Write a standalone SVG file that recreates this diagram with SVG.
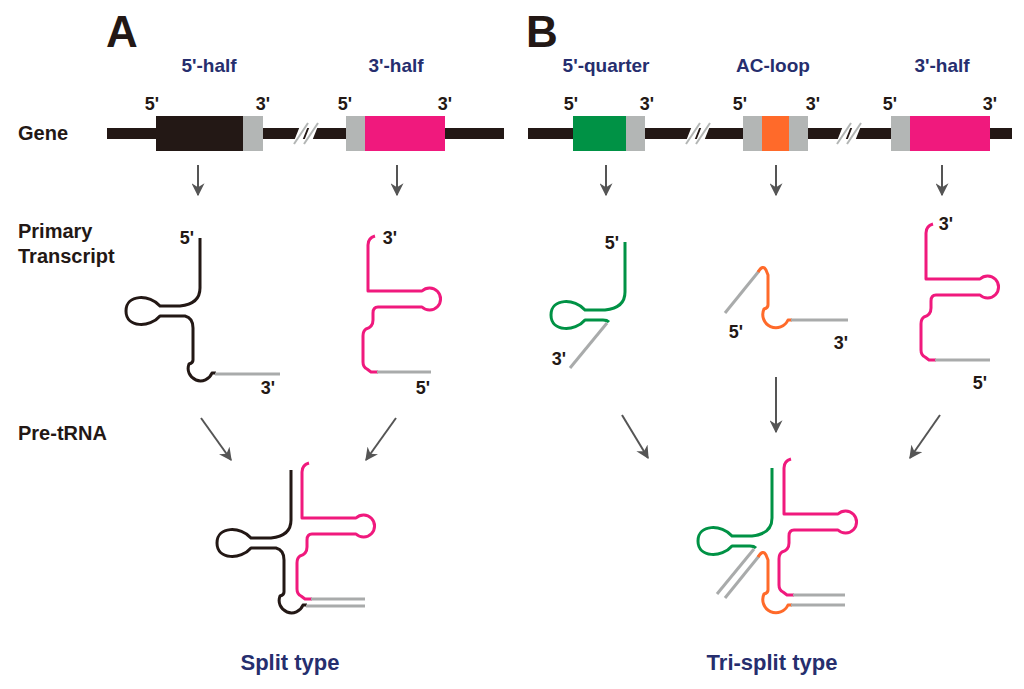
<svg xmlns="http://www.w3.org/2000/svg" width="1024" height="689" viewBox="0 0 1024 689">
<style>
text{font-family:"Liberation Sans",Arial,sans-serif;font-weight:bold}
.lab{font-size:20px;fill:#231815}
.end{font-size:18px;fill:#231815;text-anchor:middle}
.nm{font-size:19px;fill:#262e6e;text-anchor:middle}
.ty{font-size:22px;fill:#262e6e;text-anchor:middle}
.s{fill:none;stroke-width:3;stroke-linejoin:round;stroke-linecap:butt}
.k{stroke:#231815}.p{stroke:#f0197d}.g{stroke:#009245}.o{stroke:#ff6a2a}.gr{stroke:#a9abab}
.ar{stroke:#555;stroke-width:2;fill:none;marker-end:url(#ah)}
</style>
<defs>
<marker id="ah" viewBox="0 0 10 10" refX="9" refY="5" markerWidth="13" markerHeight="13" orient="auto" markerUnits="userSpaceOnUse">
<path d="M0,0 L10,5 L0,10 L3,5 Z" fill="#555"/>
</marker>
<path id="blk" d="M200,238 V288 Q200,304 180,306 L160,306 C150,294 126,294 126,311 C126,328 150,328 160,316 L185,316 Q193,318 193,328 V360 Q193,363 189,364 A12,12 0 1 0 212,373 H216"/>
<path id="pnk" d="M375,236 Q368,238 368,245 V291 H422 A11,11 0 1 1 422,307 H378 Q373,307 373,313 V320 Q373,327 366,329 Q363,331 363,336 V362 Q363,367 367,369 L371,372 H378"/>
<path id="grn" d="M625,242 V292 Q625,308 605,310 L585,310 C575,298 551,298 551,315 C551,332 575,332 585,320 L603,320 Q607,320 609,322"/>
<path id="org" d="M758,272 Q763,264 766,270 L768,275 V305 Q768,308 764,309 A13,13 0 1 0 788,320 H792"/>
</defs>
<text x="106" y="47" style="font-size:44px;fill:#231815">A</text>
<text x="526" y="47" style="font-size:44px;fill:#231815">B</text>
<text x="18" y="140" class="lab">Gene</text>
<text x="18" y="238" class="lab">Primary</text>
<text x="18" y="263" class="lab">Transcript</text>
<text x="18" y="440" class="lab">Pre-tRNA</text>
<g id="geneA">
<rect x="107" y="128" width="397" height="11" fill="#231815"/>
<rect x="156" y="116" width="87" height="35" fill="#231815"/>
<rect x="243" y="116" width="20" height="35" fill="#b3b6b5"/>
<rect x="346" y="116" width="19" height="35" fill="#b3b6b5"/>
<rect x="365" y="116" width="80" height="35" fill="#f0197d"/>
<polygon points="300,126 308,126 302,141 294,141" fill="#fff"/>
<polygon points="310,126 318,126 312,141 304,141" fill="#fff"/>
<line x1="308" y1="123" x2="294" y2="144" stroke="#b3b6b5" stroke-width="2"/>
<line x1="318" y1="123" x2="304" y2="144" stroke="#b3b6b5" stroke-width="2"/>
<text x="152" y="110" class="end">5'</text><text x="263" y="110" class="end">3'</text>
<text x="345" y="110" class="end">5'</text><text x="445" y="110" class="end">3'</text>
<text x="209" y="72" class="nm">5'-half</text><text x="396" y="72" class="nm">3'-half</text>
</g>
<g id="geneB">
<rect x="528" y="128" width="484" height="11" fill="#231815"/>
<rect x="573" y="116" width="53" height="35" fill="#009245"/>
<rect x="626" y="116" width="19" height="35" fill="#b3b6b5"/>
<rect x="743" y="116" width="19" height="35" fill="#b3b6b5"/>
<rect x="762" y="116" width="27" height="35" fill="#ff6a2a"/>
<rect x="789" y="116" width="19" height="35" fill="#b3b6b5"/>
<rect x="891" y="116" width="19" height="35" fill="#b3b6b5"/>
<rect x="910" y="116" width="80" height="35" fill="#f0197d"/>
<polygon points="692,126 700,126 694,141 686,141" fill="#fff"/>
<polygon points="702,126 710,126 704,141 696,141" fill="#fff"/>
<line x1="700" y1="123" x2="686" y2="144" stroke="#b3b6b5" stroke-width="2"/>
<line x1="710" y1="123" x2="696" y2="144" stroke="#b3b6b5" stroke-width="2"/>
<polygon points="843,126 851,126 845,141 837,141" fill="#fff"/>
<polygon points="853,126 861,126 855,141 847,141" fill="#fff"/>
<line x1="851" y1="123" x2="837" y2="144" stroke="#b3b6b5" stroke-width="2"/>
<line x1="861" y1="123" x2="847" y2="144" stroke="#b3b6b5" stroke-width="2"/>
<text x="571" y="110" class="end">5'</text><text x="647" y="110" class="end">3'</text>
<text x="740" y="110" class="end">5'</text><text x="813" y="110" class="end">3'</text>
<text x="890" y="110" class="end">5'</text><text x="990" y="110" class="end">3'</text>
<text x="606" y="72" class="nm">5'-quarter</text><text x="773" y="72" class="nm">AC-loop</text><text x="942" y="72" class="nm">3'-half</text>
</g>
<g id="primaryA">
<use href="#blk" class="s k"/>
<line x1="215" y1="374" x2="280" y2="374" class="s gr"/>
<use href="#pnk" class="s p"/>
<line x1="377" y1="372" x2="431" y2="372" class="s gr"/>
<text x="187" y="244" class="end">5'</text><text x="268" y="394" class="end">3'</text>
<text x="390" y="244" class="end">3'</text><text x="423" y="394" class="end">5'</text>
</g>
<g id="primaryB">
<use href="#grn" class="s g"/>
<line x1="607" y1="323" x2="570" y2="368" class="s gr"/>
<line x1="725" y1="313" x2="759" y2="271" class="s gr"/>
<use href="#org" class="s o"/>
<line x1="791" y1="320" x2="848" y2="320" class="s gr"/>
<use href="#pnk" class="s p" transform="translate(558,-12)"/>
<line x1="935" y1="360" x2="990" y2="360" class="s gr"/>
<text x="612" y="249" class="end">5'</text><text x="559" y="365" class="end">3'</text>
<text x="736" y="338" class="end">5'</text><text x="841" y="349" class="end">3'</text>
<text x="946" y="230" class="end">3'</text><text x="980" y="389" class="end">5'</text>
</g>
<g id="preA">
<use href="#blk" class="s k" transform="translate(91,232)"/>
<line x1="306" y1="606" x2="365" y2="606" class="s gr"/>
<use href="#pnk" class="s p" transform="translate(-66,227)"/>
<line x1="311" y1="599" x2="365" y2="599" class="s gr"/>
</g>
<g id="preB">
<use href="#grn" class="s g" transform="translate(147,226)"/>
<line x1="754" y1="549" x2="717" y2="594" class="s gr"/>
<line x1="725" y1="598" x2="759" y2="556" class="s gr"/>
<use href="#org" class="s o" transform="translate(0,285)"/>
<line x1="791" y1="605" x2="845" y2="605" class="s gr"/>
<use href="#pnk" class="s p" transform="translate(416,223)"/>
<line x1="793" y1="595" x2="845" y2="595" class="s gr"/>
</g>
<g id="connectors">
<line x1="198" y1="165" x2="198" y2="195" class="ar"/>
<line x1="397" y1="165" x2="397" y2="195" class="ar"/>
<line x1="606" y1="165" x2="606" y2="195" class="ar"/>
<line x1="776" y1="165" x2="776" y2="195" class="ar"/>
<line x1="942" y1="165" x2="942" y2="195" class="ar"/>
<line x1="201" y1="418" x2="231" y2="460" class="ar"/>
<line x1="396" y1="418" x2="366" y2="460" class="ar"/>
<line x1="622" y1="415" x2="648" y2="458" class="ar"/>
<line x1="776" y1="377" x2="776" y2="432" class="ar"/>
<line x1="940" y1="415" x2="910" y2="458" class="ar"/>
</g>
<text x="290" y="670" class="ty">Split type</text>
<text x="772" y="670" class="ty">Tri-split type</text>
</svg>
